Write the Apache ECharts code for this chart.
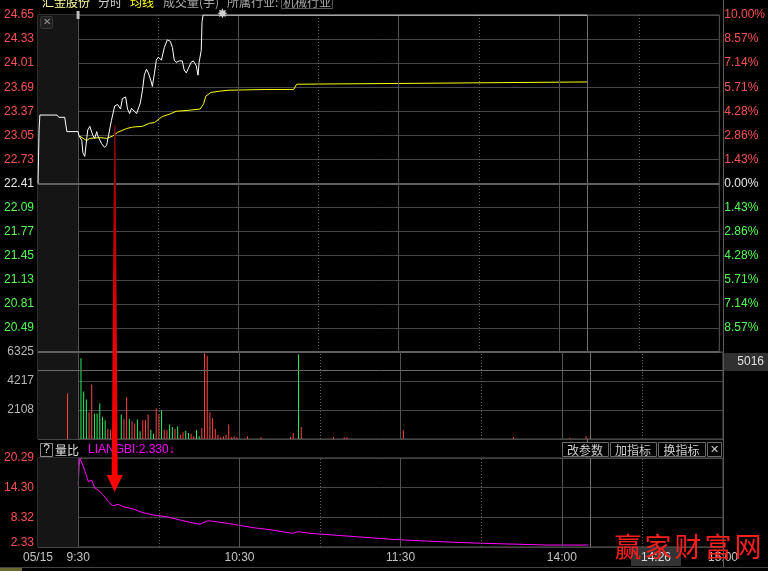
<!DOCTYPE html>
<html><head><meta charset="utf-8">
<script src="https://cdn.jsdelivr.net/npm/echarts@6/dist/echarts.min.js"></script>
<style>html,body{margin:0;padding:0;background:#000;}#c{width:768px;height:571px;}</style>
</head><body><div id="c"></div>
<script>
// ---- time axis: minutes of trading from 9:15 (0) ; 9:30 = 15, 11:30/13:00 = 135, 15:00 = 255
const timeLabelT = [0, 15, 75, 135, 195, 255];
const timeLabelText = ['05/15', '9:30', '10:30', '11:30', '14:00', '15:00'];
const solidGridT = [15, 75, 135, 195];
const dottedGridT = [45, 105, 165, 225];

// ---- price panel
const prevClose = 22.41;
const priceMin = 20.17, priceMax = 24.65;
const priceLabels = ['24.65','24.33','24.01','23.69','23.37','23.05','22.73','22.41','22.09','21.77','21.45','21.13','20.81','20.49',''];
const pctLabels = ['10.00%','8.57%','7.14%','5.71%','4.28%','2.86%','1.43%','0.00%','1.43%','2.86%','4.28%','5.71%','7.14%','8.57%',''];

const priceTime = [0, 0.4, 0.7, 7.1, 7.8, 10, 10.8, 15,
  15.3, 16.4, 16.8, 17.5, 18.2, 18.6, 19.4, 20.1, 20.5, 21.2, 22.0, 22.3, 23.8, 24.9, 25.7, 26.4,
  27.5, 28.7, 29.8, 30.9, 31.6, 32.8, 33.5, 34.3, 35.0, 35.7, 36.9, 37.2, 38.3, 39.1, 39.8, 40.6,
  41.3, 42.4, 42.8, 43.6, 44.3, 45.0, 46.2, 47.3, 48.4, 49.5, 50.3, 51.0, 51.7, 52.9, 54.0, 54.7,
  55.5, 56.2, 57.3, 58.1, 59.2, 59.9, 60.3, 61.1, 61.4, 61.8, 205.5];
const priceValue = [22.41, 23.12, 23.32, 23.32, 23.29, 23.29, 23.10, 23.10,
  23.05, 22.98, 22.82, 22.77, 22.76, 23.12, 23.17, 23.18, 23.05, 23.01, 23.10, 23.05, 22.94, 22.89, 22.92, 23.05,
  23.25, 23.44, 23.46, 23.40, 23.54, 23.56, 23.40, 23.34, 23.41, 23.42, 23.34, 23.32, 23.48, 23.65, 23.85, 23.93,
  23.88, 23.76, 23.70, 23.88, 24.05, 24.09, 24.05, 24.22, 24.32, 24.30, 24.22, 24.05, 24.02, 24.04, 24.04, 23.92,
  23.88, 23.89, 24.02, 24.04, 23.98, 23.85, 24.02, 24.18, 24.56, 24.65, 24.65];

const avgTime = [15.6, 18.2, 19.4, 23.1, 25.7, 27.9, 29.8, 33.1, 35.4, 39.1, 41.7, 43.6, 46.5, 49.1, 51.7, 55.5,
  60.7, 61.4, 62.0, 62.8, 64.7, 68.5, 71.5, 85.3, 95.7, 96.8, 97.5, 134.8, 135.5, 205.5];
const avgValue = [23.04, 22.98, 23.01, 23.02, 23.01, 23.04, 23.09, 23.14, 23.16, 23.17, 23.21, 23.22, 23.30, 23.33, 23.37, 23.38,
  23.40, 23.41, 23.47, 23.57, 23.62, 23.64, 23.65, 23.66, 23.66, 23.73, 23.74, 23.74, 23.76, 23.76];

// ---- volume panel (hands)
const volMax = 6325;
const volLabels = ['', '2108', '4217', '6325'];
const volTime = [11, 16, 17, 18, 19, 20, 21, 22, 23, 24, 25, 26, 27, 31, 32, 33, 34, 35, 36, 37, 38, 39, 40, 41, 42, 43,
  44, 45, 46, 47, 48, 49, 50, 51, 52, 53, 54, 55, 56, 57, 58, 59, 60, 61, 62, 63, 64, 65, 66, 67, 68, 69, 70, 71, 72,
  73, 74, 78, 83, 94, 95, 97, 98, 110, 114, 115, 136, 177, 198, 204];
const volValue = [3309, 5864, 3455, 2871, 1946, 3966, 1849, 1849, 2579, 1606, 1362, 754, 681, 1776, 1460, 3041, 1460, 1290,
  1119, 1411, 560, 1362, 1362, 1776, 681, 389, 2214, 1800, 2068, 681, 633, 1046, 876, 730, 925, 316, 487, 608, 438, 389,
  195, 633, 195, 803, 6229, 6034, 1946, 1533, 730, 316, 122, 195, 316, 1046, 122, 195, 122, 195, 122, 122, 438, 6155,
  876, 122, 122, 122, 633, 122, 97, 195];
const volUp = [1, 0, 0, 0, 1, 1, 0, 0, 0, 0, 0, 1, 1, 0, 1, 1, 0, 1, 1, 0, 0, 1, 1, 1, 0, 0,
  1, 1, 0, 1, 1, 0, 0, 1, 0, 1, 1, 0, 0, 1, 1, 0, 0, 1, 1, 1, 1, 1, 1, 1, 1, 1, 1, 1, 1,
  1, 1, 1, 1, 1, 1, 0, 1, 1, 1, 1, 1, 1, 1, 1];
const cursorVol = 5016;
const cursorT = 205.5;

// ---- volume-ratio (量比) panel
const lbMin = 2.33, lbMax = 20.29;
const lbLabels = ['2.33', '8.32', '14.30', '20.29'];
const lbTime = [15, 15.3, 15.6, 16.9, 18.4, 18.7, 20, 21.2, 22.4, 24.3, 26.2, 27.8, 29.9, 31.8, 35.5, 38.6, 42.9, 47.9,
  52.9, 56.6, 60.3, 61.8, 63.4, 66.5, 72.7, 80.2, 85.1, 91.3, 94.5, 96.9, 101.3, 109.9, 119.9, 131.7, 138.5, 146.6,
  155.2, 165.2, 175.7, 189.4, 204.9];
const lbValue = [14.83, 18.52, 20.21, 18.52, 16.18, 15.50, 15.84, 14.16, 13.82, 12.81, 11.46, 10.66, 10.94, 10.46, 9.99,
  9.33, 8.78, 8.44, 7.77, 7.31, 6.91, 7.31, 7.63, 7.43, 6.91, 6.22, 5.90, 5.41, 5.09, 5.41, 5.09, 4.75, 4.35, 3.88,
  3.68, 3.48, 3.28, 3.08, 2.93, 2.73, 2.73];

const limitStarT = 69;
const arrowT = 28.7;

const FONT = '"Liberation Sans", Arial, sans-serif';
const CJK = '"Noto Sans CJK SC", "Liberation Sans", sans-serif';
const RED = '#ff5252', GREEN = '#52ff52', GRID = '#474747';

const chart = echarts.init(document.getElementById('c'), null, {renderer: 'canvas'});

function gridMarks(extraLines) {
  const lines = [];
  solidGridT.forEach(t => lines.push({xAxis: t, lineStyle: {color: '#525252', type: 'solid', width: 1}}));
  dottedGridT.forEach(t => lines.push({xAxis: t, lineStyle: {color: '#606060', type: [1, 2], width: 1}}));
  lines.push({xAxis: cursorT, lineStyle: {color: '#707070', type: 'solid', width: 1}});
  return {
    silent: true, symbol: 'none', label: {show: false}, animation: false,
    data: lines.concat(extraLines || [])
  };
}
function shade() {
  return {silent: true, itemStyle: {color: '#151515'}, data: [[{xAxis: 0}, {xAxis: 15}]]};
}

const timeLabelFmt = v => { const i = timeLabelT.indexOf(Number(v)); return i >= 0 ? timeLabelText[i] : ''; };

chart.setOption({
  backgroundColor: '#000',
  animation: false,
  grid: [
    {left: 38, right: 45, top: 15, height: 337, show: true, borderColor: '#5a5a5a', borderWidth: 1},
    {left: 38, right: 45, top: 352, height: 87, show: true, borderColor: '#5a5a5a', borderWidth: 1},
    {left: 38, right: 45, top: 458, height: 89, show: true, borderColor: '#5a5a5a', borderWidth: 1}
  ],
  xAxis: [
    {type: 'value', gridIndex: 0, min: 0, max: 255, show: false},
    {type: 'value', gridIndex: 1, min: 0, max: 255, show: false},
    {type: 'value', gridIndex: 2, min: 0, max: 255, interval: 15,
      axisLine: {show: false}, axisTick: {show: false}, splitLine: {show: false},
      axisLabel: {formatter: timeLabelFmt, color: '#c4c4c4', fontSize: 12, fontFamily: FONT, margin: 5}}
  ],
  yAxis: [
    {type: 'value', gridIndex: 0, min: priceMin, max: priceMax, show: false, position: 'left'},
    {type: 'value', gridIndex: 0, min: 0, max: 14, interval: 1, position: 'left',
      axisLine: {show: false}, axisTick: {show: false},
      splitLine: {show: true, lineStyle: {color: GRID}},
      axisLabel: {formatter: v => priceLabels[14 - Number(v)], fontSize: 12, fontFamily: FONT, margin: 4,
        color: (v) => { const i = 14 - Number(v); return i < 7 ? RED : (i === 7 ? '#e8e8e8' : GREEN); }}},
    {type: 'value', gridIndex: 0, min: 0, max: 14, interval: 1, position: 'right',
      axisLine: {show: false}, axisTick: {show: false}, splitLine: {show: false},
      axisLabel: {formatter: v => pctLabels[14 - Number(v)], fontSize: 12, fontFamily: FONT, margin: 5,
        color: (v) => { const i = 14 - Number(v); return i < 7 ? RED : (i === 7 ? '#e8e8e8' : GREEN); }}},
    {type: 'value', gridIndex: 1, min: 0, max: volMax, show: false, position: 'left'},
    {type: 'value', gridIndex: 1, min: 0, max: 3, interval: 1, position: 'left',
      axisLine: {show: false}, axisTick: {show: false},
      splitLine: {show: true, lineStyle: {color: GRID}},
      axisLabel: {formatter: v => volLabels[Number(v)], fontSize: 12, fontFamily: FONT, margin: 4, color: '#b8b8b8'}},
    {type: 'value', gridIndex: 2, min: lbMin, max: lbMax, show: false, position: 'left'},
    {type: 'value', gridIndex: 2, min: 0, max: 3, interval: 1, position: 'left',
      axisLine: {show: false}, axisTick: {show: false},
      splitLine: {show: true, lineStyle: {color: GRID}},
      axisLabel: {fontSize: 12, fontFamily: FONT, margin: 4, color: RED,
        formatter: v => Number(v) === 0 ? '{b|' + lbLabels[0] + '}' : lbLabels[Number(v)],
        rich: {b: {fontSize: 12, fontFamily: FONT, color: RED, padding: [0, 0, 8, 0]}}}}
  ],
  series: [
    {type: 'line', xAxisIndex: 0, yAxisIndex: 0, data: [], z: -1, silent: true,
      markArea: shade(),
      markLine: gridMarks([
        {yAxis: prevClose, lineStyle: {color: '#606060', type: 'solid', width: 2}},
        {yAxis: priceMin, lineStyle: {color: '#606060', type: 'solid', width: 2}}
      ])},
    {type: 'line', xAxisIndex: 1, yAxisIndex: 3, data: [], z: -1, silent: true,
      markArea: shade(),
      markLine: gridMarks([{yAxis: cursorVol, lineStyle: {color: '#6a6a6a', type: 'solid', width: 1}}])},
    {type: 'line', xAxisIndex: 2, yAxisIndex: 5, data: [], z: -1, silent: true,
      markArea: shade(), markLine: gridMarks([])},
    {name: '均线', type: 'line', xAxisIndex: 0, yAxisIndex: 0, showSymbol: false, z: 4,
      lineStyle: {color: '#ffff00', width: 1}, data: avgTime.map((t, i) => [t, avgValue[i]])},
    {name: '分时', type: 'line', xAxisIndex: 0, yAxisIndex: 0, showSymbol: false, z: 5,
      lineStyle: {color: '#ffffff', width: 1}, data: priceTime.map((t, i) => [t, priceValue[i]])},
    {name: '成交量', type: 'bar', xAxisIndex: 1, yAxisIndex: 3, barWidth: 1, z: 4,
      itemStyle: {color: p => volUp[p.dataIndex] ? '#ff4444' : '#2cf060'},
      data: volTime.map((t, i) => [t, volValue[i]])},
    {name: 'LIANGBI', type: 'line', xAxisIndex: 2, yAxisIndex: 5, showSymbol: false, z: 4,
      lineStyle: {color: '#ff00ff', width: 1}, data: lbTime.map((t, i) => [t, lbValue[i]])}
  ]
});

// ---- decorations / annotations
const px = t => chart.convertToPixel({xAxisIndex: 0}, t);
const py = v => chart.convertToPixel({yAxisIndex: 0}, v);
const cx = px(cursorT);
const ax = px(arrowT);
const starX = px(limitStarT), starY = py(priceMax);
const volCurY = chart.convertToPixel({yAxisIndex: 3}, cursorVol);

function txt(x, y, s, fill, size, font, align, extra) {
  return Object.assign({type: 'text', x: x, y: y, z: 50,
    style: {text: s, fill: fill, font: (size || 12) + 'px ' + (font || FONT), textAlign: align || 'left', textVerticalAlign: 'middle'}}, extra || {});
}
function btn(x0, x1, label) {
  return [
    {type: 'rect', z: 50, shape: {x: x0 + 0.5, y: 442.5, width: x1 - x0, height: 14}, style: {fill: '#000', stroke: '#6a6a6a', lineWidth: 1}},
    txt((x0 + x1) / 2, 450, label, '#cfcfcf', 12, CJK, 'center')
  ];
}

const g = [
  // top header (partially clipped)
  txt(42, 2, '汇金股份', '#ffff99', 12, CJK),
  txt(98, 2, '分时', '#d0d0d0', 12, CJK),
  txt(130, 2, '均线', '#ffff00', 12, CJK),
  txt(163, 2, '成交量(手)', '#a8a8a8', 12, CJK),
  txt(227, 2, '所属行业:', '#a8a8a8', 12, CJK),
  {type: 'rect', z: 50, shape: {x: 281.5, y: -6.5, width: 51, height: 15}, style: {fill: 'none', stroke: '#555', lineWidth: 1}},
  txt(283, 2, '机械行业', '#a8a8a8', 12, CJK),
  // right border through whole height
  {type: 'line', z: 40, shape: {x1: 723.5, y1: 0, x2: 723.5, y2: 567}, style: {stroke: '#5a5a5a', lineWidth: 1}},
  // close box in auction area
  {type: 'rect', z: 50, shape: {x: 40.5, y: 16.5, width: 12, height: 12, r: 2}, style: {fill: '#1f1f1f', stroke: '#3a3a3a', lineWidth: 1}},
  txt(46.5, 22.5, '✕', '#9a9a9a', 10, FONT, 'center'),
  // 9:30 marker
  {type: 'rect', z: 50, shape: {x: px(15) - 1.5, y: 11, width: 3, height: 8}, style: {fill: '#bdbdbd'}},
  // limit-up star
  txt(starX, starY, '✸', '#d0d0d0', 13, '"DejaVu Sans"', 'center'),
  // cursor line through indicator header
  {type: 'line', z: 45, shape: {x1: cx + 0.5, y1: 439, x2: cx + 0.5, y2: 458}, style: {stroke: '#707070', lineWidth: 1}},
  // volume cursor value
  {type: 'rect', z: 50, shape: {x: 724, y: volCurY - 17, width: 44, height: 18}, style: {fill: '#303030'}},
  txt(764, volCurY - 8, String(cursorVol), '#e0e0e0', 12, FONT, 'right'),
  // indicator header
  {type: 'rect', z: 50, shape: {x: 40.5, y: 443.5, width: 12, height: 13}, style: {fill: '#000', stroke: '#8a8a8a', lineWidth: 1}},
  txt(46.5, 450, '?', '#e0e0e0', 12, FONT, 'center'),
  txt(55, 450, '量比', '#e0e0e0', 12, CJK),
  txt(88, 450, 'LIANGBI:2.330↓', '#ff00ff', 12, FONT),
  ...btn(562, 608, '改参数'),
  ...btn(610, 656, '加指标'),
  ...btn(658, 705, '换指标'),
  {type: 'rect', z: 50, shape: {x: 707.5, y: 442.5, width: 14, height: 14}, style: {fill: '#000', stroke: '#6a6a6a', lineWidth: 1}},
  txt(714.5, 450, '✕', '#cfcfcf', 11, FONT, 'center'),
  // cursor time box
  {type: 'rect', z: 50, shape: {x: 631, y: 548, width: 50, height: 18}, style: {fill: '#333'}},
  txt(656, 557.5, '14:26', '#dcdcdc', 12, FONT, 'center'),
  // bottom tab strip
  {type: 'line', z: 40, shape: {x1: 0, y1: 567.5, x2: 768, y2: 567.5}, style: {stroke: '#444', lineWidth: 1}},
  {type: 'rect', z: 40, shape: {x: 0, y: 568, width: 22, height: 3}, style: {fill: '#6a6a30'}},
  // red arrow annotation
  {type: 'polygon', z: 60,
    shape: {points: [[ax - 0.5, 125], [ax + 0.8, 125], [ax + 3, 475], [ax + 8, 475], [ax, 492], [ax - 8, 475], [ax - 3, 475]]},
    style: {fill: new echarts.graphic.LinearGradient(0, 0, 0, 1, [
      {offset: 0, color: '#8a0000'}, {offset: 0.5, color: '#e00000'}, {offset: 1, color: '#ff0000'}])}}
];
// watermark
['赢', '家', '财', '富', '网'].forEach((ch, i) => {
  g.push(txt(628 + i * 30, 547, ch, '#ff1e1e', 27, CJK, 'center', {z: 70}));
});
chart.setOption({graphic: g});
</script>
</body></html>
